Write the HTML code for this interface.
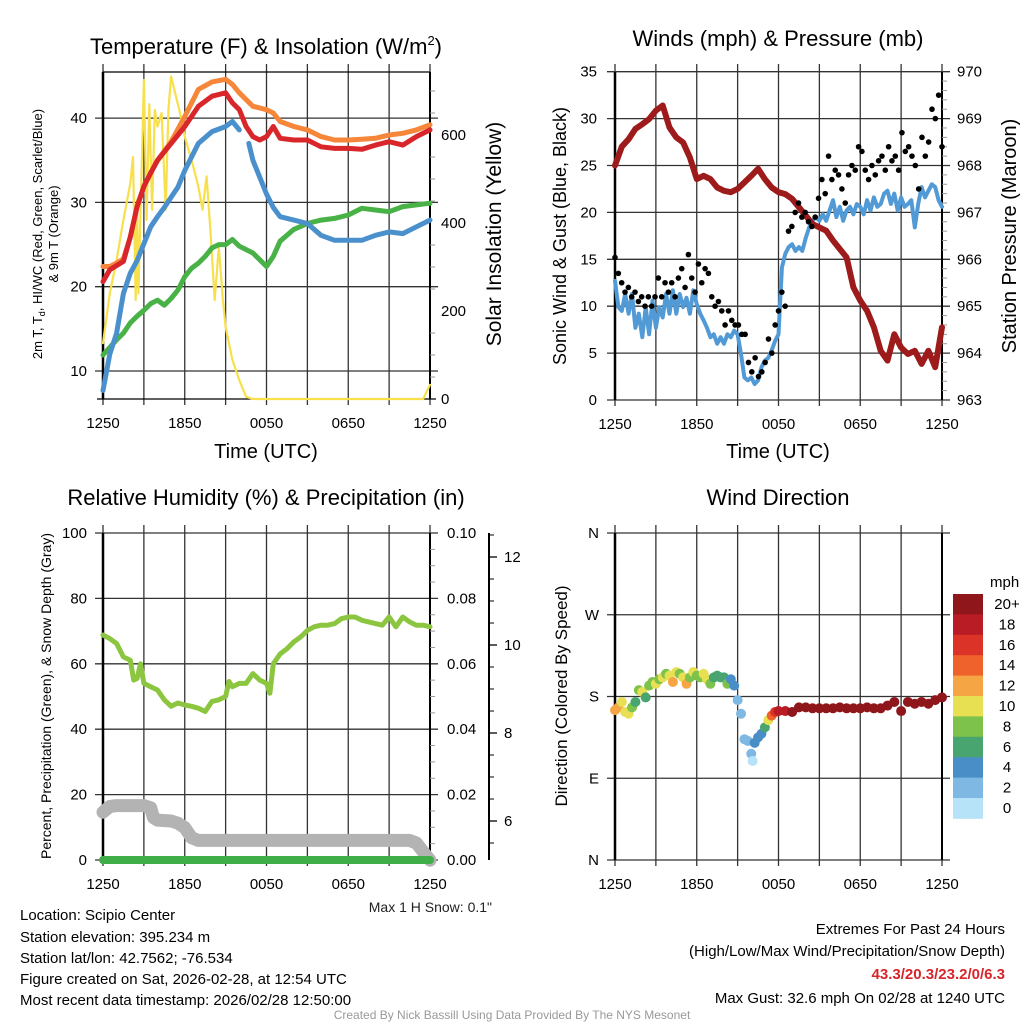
<!DOCTYPE html>
<html><head><meta charset="utf-8">
<style>
body{margin:0;background:#fff;width:1024px;height:1024px;overflow:hidden;font-family:"Liberation Sans",sans-serif}
svg text{font-family:"Liberation Sans",sans-serif}
</style></head>
<body>
<svg id="c" width="1024" height="1024" viewBox="0 0 1024 1024">
<g id="titles" fill="#000">
<text x="266" y="54" font-size="22" text-anchor="middle">Temperature (F) &amp; Insolation (W/m<tspan font-size="13" dy="-9">2</tspan><tspan dy="9">)</tspan></text>
<text x="778" y="46" font-size="22" text-anchor="middle">Winds (mph) &amp; Pressure (mb)</text>
<text x="266" y="505" font-size="22" text-anchor="middle">Relative Humidity (%) &amp; Precipitation (in)</text>
<text x="778" y="505" font-size="22" text-anchor="middle">Wind Direction</text>
<text x="266" y="458" font-size="20" text-anchor="middle">Time (UTC)</text>
<text x="778" y="458" font-size="20" text-anchor="middle">Time (UTC)</text>
<text transform="translate(42,234) rotate(-90)" font-size="13" text-anchor="middle">2m T, T<tspan font-size="9" dy="3">d</tspan><tspan dy="-3">, HI/WC (Red, Green, Scarlet/Blue)</tspan></text>
<text transform="translate(58,234) rotate(-90)" font-size="13" text-anchor="middle">&amp; 9m T (Orange)</text>
<text transform="translate(501,234) rotate(-90)" font-size="21" text-anchor="middle">Solar Insolation (Yellow)</text>
<text transform="translate(566,236) rotate(-90)" font-size="18" text-anchor="middle">Sonic Wind &amp; Gust (Blue, Black)</text>
<text transform="translate(1016,236) rotate(-90)" font-size="20" text-anchor="middle">Station Pressure (Maroon)</text>
<text transform="translate(51,696) rotate(-90)" font-size="14" text-anchor="middle">Percent, Precipitation (Green), &amp; Snow Depth (Gray)</text>
<text transform="translate(567,696) rotate(-90)" font-size="17" text-anchor="middle">Direction (Colored By Speed)</text>
<text x="492" y="912" font-size="14" text-anchor="end" fill="#222">Max 1 H Snow: 0.1"</text>
<g font-size="15">
<text x="20" y="920">Location: Scipio Center</text>
<text x="20" y="942">Station elevation: 395.234 m</text>
<text x="20" y="963">Station lat/lon: 42.7562; -76.534</text>
<text x="20" y="984">Figure created on Sat, 2026-02-28, at 12:54 UTC</text>
<text x="20" y="1005">Most recent data timestamp: 2026/02/28 12:50:00</text>
</g>
<g font-size="15" text-anchor="end">
<text x="1005" y="934">Extremes For Past 24 Hours</text>
<text x="1005" y="956">(High/Low/Max Wind/Precipitation/Snow Depth)</text>
<text x="1005" y="979" fill="#d7262b" font-weight="bold">43.3/20.3/23.2/0/6.3</text>
<text x="1005" y="1003">Max Gust: 32.6 mph On 02/28 at 1240 UTC</text>
</g>
<text x="512" y="1019" font-size="12" fill="#999" text-anchor="middle">Created By Nick Bassill Using Data Provided By The NYS Mesonet</text>
</g>
</svg>
<script>
// ---------- data (hours since 1250 UTC) ----------
const xTickLabels=["1250","1850","0050","0650","1250"];
const tempHours=[0,0.5,1.5,2,2.5,3,3.5,4,5,6,7,8,9,9.5,10,10.5,11,11.5,12,12.5,13,14,15,16,17,18,19,20,21,22,23,24];
const tempRed=[20.6,22,23,25.9,29.5,31.9,33.5,35,37,39,41.4,42.6,43,41.8,41,39,37.8,37.4,37.8,39,37.6,37.4,37.4,36.6,36.4,36.4,36.3,36.8,37.2,36.8,37.8,38.6];
const orangeHours=[0,0.5,1,1.5,2,2.5,3,3.5,4,5,6,7,8,9,9.5,10,11,12,12.5,13,14,15,16,17,18,19,20,21,22,23,24];
const tempOrange=[22.4,22.4,22.8,23.3,25.9,29.5,31.9,33.5,35,37.2,40.2,43.4,44.3,44.6,44,43,41.4,41,40.6,39.6,39,38.6,37.8,37.4,37.4,37.5,37.6,38,38.2,38.6,39.2];
const blueHours=[0,0.5,1,1.5,2,2.5,3,3.5,4,4.5,5,5.5,6,6.5,7,8,9,9.5,10,10.3,10.7,11,11.5,12,12.5,13,14,15,16,17,18,19,20,21,22,23,24];
const tempBlue=[7.7,12,14.5,19.2,21.6,23.1,25.1,27.1,28.3,29.4,30.6,31.8,33.8,35.4,37,38.4,39,39.6,38.6,null,37,35,33,31,29.4,28.3,27.9,27.5,26.1,25.5,25.5,25.5,26.1,26.5,26.3,27.1,27.9];
const greenHours=[0,1,1.5,2,2.5,3,3.5,4,4.5,5,5.5,6,6.5,7,7.5,8,8.5,9,9.5,10,11,11.5,12,12.5,13,14,15,16,17,18,19,20,21,22,23,24];
const tempGreen=[11.9,13.7,14.5,15.7,16.5,17.2,18,18.4,17.8,18.6,19.6,21.2,22.2,22.8,23.6,24.6,25,25,25.6,24.8,24,23.2,22.4,23.6,25.4,26.8,27.5,27.9,28.1,28.5,29.3,29.1,28.9,29.5,29.7,29.9];
const solarHours=[0,0.5,1,1.5,2,2.2,2.4,2.5,2.6,2.8,3,3.2,3.4,3.6,3.8,4,4.3,4.6,4.8,5,5.3,5.6,6,6.5,7,7.3,7.6,7.9,8.2,8.5,8.8,9,9.5,10,10.5,11,23.5,23.8,24];
const solarVals=[127,240,316,407,490,550,225,452,240,482,725,407,670,430,657,619,650,430,657,733,695,657,596,543,482,430,506,376,225,346,225,164,89,43,5,0,0,20,32];
const presHours=[0,0.5,1,1.5,2,2.5,3,3.5,4,4.5,5,5.5,6,6.5,7,7.5,8,8.5,9,9.5,10,10.5,11,11.5,12,12.5,13,13.5,14,14.5,15,15.5,16,16.5,17,17.5,18,18.5,19,19.5,20,20.5,21,21.5,22,22.5,23,23.5,24];
const presVals=[968.0,968.4,968.56,968.78,968.88,968.99,969.17,969.28,968.81,968.6,968.49,968.17,967.71,967.78,967.71,967.53,967.46,967.43,967.5,967.64,967.78,967.93,967.71,967.53,967.43,967.39,967.29,967.11,966.93,966.75,966.68,966.61,966.4,966.22,966.04,965.4,965.12,964.9,964.55,964.05,963.84,964.4,964.12,963.98,964.05,963.77,964.05,963.7,964.55];
const windSpeed=[12.7,9.9,9.5,11.3,9.2,11.3,7.7,9.2,6.7,9.9,7,10.6,7.7,9.9,8.8,11.3,9.2,11.7,9.2,11.3,9.9,10.9,9.2,11.7,10.2,9.2,8.5,7.7,6.7,7,6,6.7,6,7,6.7,7.4,7,4.9,2.4,2.1,2.4,1.7,2.1,3.5,4.2,4.5,5.3,6.3,7,14.1,15.6,16.3,16.6,15.9,16.3,15.9,17.3,18.4,19.1,19.5,19.1,19.8,19.1,20.2,21.3,19.5,20.6,19.1,20.2,20.6,19.8,20.9,20.6,19.8,21.3,20.2,21.6,20.6,20.9,22,22.3,20.9,22,20.2,21.6,20.6,20.9,21.3,18.4,20.9,22.7,21.6,22.3,23,22.7,21.3,20.6];
const windGust=[15.2,13.5,12.5,11.5,12,11,11.5,10.5,11,10,11,10,11,13,11,12.5,11.5,12.5,11,13,14,12,15.5,13,11.5,14.5,12.5,14,13.5,11,10,10.5,9.5,8,9.5,8.5,8,8,7,7,4,3,4.5,2.5,3,4,6.5,5,8,9.5,11.5,10,18,18.5,20,21,19.5,20,19,18.5,19.5,21.5,23.5,22,26,23.5,24.5,24,22.5,21,24,25,24.5,27,26.5,24.5,23.5,25,24,25.5,26,24.5,27,25.5,26,24.5,28.5,26.5,27,26,25,22.5,28,26,27.5,31,30,32.5,27];
const rhHours=[0,0.5,1,1.5,2,2.25,2.5,2.75,3,3.5,4,4.5,5,5.5,6,6.5,7,7.5,8,8.5,9,9.25,9.5,10,10.5,11,11.5,12,12.25,12.5,13,13.5,14,14.5,15,15.5,16,16.5,17,17.5,18,18.5,19,19.5,20,20.5,21,21.5,22,22.5,23,23.5,24];
const rhVals=[68.8,67.7,66.2,62.1,61.1,55,55.5,60,54,53,52,49,47,48,47.4,47,46.4,45.4,48.5,49,50,54.6,53,54,54,57,55,54,51,60,63,64.6,66.7,68.2,70.2,71.3,71.8,71.8,72.3,73.8,74.3,74.3,73.3,72.8,72.3,71.8,74.3,71.3,74.3,72.8,71.8,71.8,71.3];
const snowHours=[0,0.5,1,2,3,3.5,3.7,4,5,5.5,6,6.5,7,10,15,20,22.5,23,23.5,24];
const snowVals=[6.2,6.33,6.35,6.35,6.35,6.3,6.08,6.02,6.0,5.95,5.85,5.62,5.56,5.56,5.56,5.56,5.56,5.5,5.3,5.11];
const precipHours=[0,24];
const precipVals=[0,0];
const dirHours=[0,0.25,0.5,0.75,1,1.25,1.5,1.75,2,2.25,2.5,2.75,3,3.25,3.5,3.75,4,4.25,4.5,4.75,5,5.25,5.5,5.75,6,6.25,6.5,6.75,7,7.25,7.5,7.75,8,8.25,8.5,8.75,9,9.25,9.5,9.75,10,10.1,10.25,10.5,10.75,11,11.25,11.5,11.75,12,12.5,13,13.5,14,14.5,15,15.5,16,16.5,17,17.5,18,18.5,19,19.5,20,20.5,21,21.5,22,22.5,23,23.5,24];
const dirVals=[165,168,174,163,161,168,174,187,185,179,192,196,194,199,201,205,203,196,207,205,201,194,201,207,203,201,205,199,194,201,203,201,201,194,199,192,176,161,133,131,117,109,129,135,139,146,154,159,163,164,164,163,168,168,167,167,167,167,168,167,167,167,168,167,167,170,174,164,174,172,174,172,176,179];
const dirSpeeds=[12,12,10,10,10,8,6,8,10,6,8,8,10,8,10,8,10,12,10,8,10,12,8,10,8,8,10,10,8,6,6,6,6,8,4,4,2,2,2,2,2,0,4,4,4,6,10,14,16,18,18,20,20,20,20,20,20,20,20,20,20,20,20,20,20,20,20,20,20,20,20,20,20,20];
const colorLabels=["20+","18","16","14","12","10","8","6","4","2","0"];
const colorSwatches=["#8f161b","#b91c24","#dc3328","#ef622c","#f6a545","#e7e052","#7cc24b","#48a56f","#4a8ec7","#7eb8e3","#b6e3f8"];

// ---------- helpers ----------
const NS="http://www.w3.org/2000/svg";
const svg=document.getElementById("c");
function mk(tag,attrs,parent){const e=document.createElementNS(NS,tag);for(const k in attrs)e.setAttribute(k,attrs[k]);(parent||svg).appendChild(e);return e;}
function txt(s,attrs,parent){const e=mk("text",attrs,parent);e.textContent=s;return e;}
function timeScale(x0,x1){return h=>x0+h*(x1-x0)/24;}
function linScale(v0,p0,v1,p1){return v=>p0+(v-v0)*(p1-p0)/(v1-v0);}
function pathFrom(hs,vs,xs,ys){let d="",pen=false;for(let i=0;i<hs.length;i++){if(vs[i]==null){pen=false;continue;}d+=(pen?"L":"M")+xs(hs[i]).toFixed(1)+","+ys(vs[i]).toFixed(1);pen=true;}return d;}
function idxHours(n){return Array.from({length:n},(_,i)=>i*24/(n-1));}

function frame(name,x0,x1,top,bot,yTicks,ys,labels,labelX){
  const g=mk("g",{});
  
  
  const xs=timeScale(x0,x1);
  for(let h=0;h<=24;h+=3){
    const l=mk("line",{x1:xs(h),x2:xs(h),y1:top-8,y2:bot+6,stroke:"#333","stroke-width":1.3},g);
    
    
  }
  for(let i=0;i<5;i++){
    const t=txt(xTickLabels[i],{x:xs(i*6),y:bot+29,"font-size":15,"text-anchor":"middle"},g);
    
    
  }
  yTicks.forEach((v,i)=>{
    const y=ys(v);
    const l=mk("line",{x1:x0-8,x2:x1+8,y1:y,y2:y,stroke:"#333","stroke-width":1.3},g);
    
    
    const t=txt(labels[i],{x:labelX,y:y+5,"font-size":15,"text-anchor":"end"},g);
    
    
  });
  mk("line",{x1:x0,x2:x0,y1:top,y2:bot,stroke:"#000","stroke-width":2.5},g);
  mk("line",{x1:x1,x2:x1,y1:top,y2:bot,stroke:"#000","stroke-width":2},g);
  return xs;
}
function rightAxis(g,x1,ticks,ys,labels,lx,minor){
  ticks.forEach((v,i)=>{
    const t=txt(labels[i],{x:lx,y:ys(v)+5,"font-size":15},g);
    
    
  });
  minor.forEach(v=>mk("line",{x1:x1,x2:x1+5,y1:ys(v),y2:ys(v),stroke:"#999","stroke-width":1},g));
}
function series(name,d,color,w,parent){
  const p=mk("path",{d:d,fill:"none",stroke:color,"stroke-width":w,"stroke-linejoin":"round","stroke-linecap":"round"},parent);
  
  
  return p;
}

// ---------- panel 1: temperature ----------
const yT=linScale(10,371,40,118.1), ySol=linScale(0,399,600,135);
const xs1=frame("temp",103,430,72,399,[10,20,30,40],yT,["10","20","30","40"],87);
mk("line",{x1:103,x2:430,y1:72,y2:72,stroke:"#000","stroke-width":1.3});
mk("line",{x1:97,x2:436,y1:399,y2:399,stroke:"#000","stroke-width":1.3});
const g1=mk("g",{});
rightAxis(g1,430,[0,200,400,600],ySol,["0","200","400","600"],441,[50,100,150,250,300,350,450,500,550,650,700]);
series("solar-insolation-line",pathFrom(solarHours,solarVals,xs1,ySol),"#f7e04b",2.2,g1);
series("green-dewpoint-line",pathFrom(greenHours,tempGreen,xs1,yT),"#49b247",5,g1);
series("blue-windchill-line",pathFrom(blueHours,tempBlue,xs1,yT),"#4a90cc",5,g1);
series("orange-9m-temp-line",pathFrom(orangeHours,tempOrange,xs1,yT),"#f5863a",5,g1);
series("red-2m-temp-line",pathFrom(tempHours,tempRed,xs1,yT),"#d9262b",5,g1);

// ---------- panel 2: winds ----------
const ySp=linScale(0,400,35,71.7), yP=linScale(963,400,970,71.7);
const xs2=frame("wind",615,942,72,400,[0,5,10,15,20,25,30,35],ySp,["0","5","10","15","20","25","30","35"],597);
const g2=mk("g",{});
rightAxis(g2,942,[963,964,965,966,967,968,969,970],yP,["963","964","965","966","967","968","969","970"],957,[963.2,963.4,963.6,963.8,964.2,964.4,964.6,964.8,965.2,965.4,965.6,965.8,966.2,966.4,966.6,966.8,967.2,967.4,967.6,967.8,968.2,968.4,968.6,968.8,969.2,969.4,969.6,969.8]);
series("wind-speed-line",pathFrom(idxHours(windSpeed.length),windSpeed,xs2,ySp),"#519ad6",4,g2);
series("pressure-line",pathFrom(presHours,presVals,xs2,yP),"#9e1b1c",6,g2);
const gh=idxHours(windGust.length);
windGust.forEach((v,i)=>{
  const c=mk("circle",{cx:xs2(gh[i]),cy:ySp(v),r:2.8,fill:"#000"},g2);
  
  
});

// ---------- panel 3: RH ----------
const yR=linScale(0,860,100,533), ySn=linScale(6,821,12,557);
const xs3=frame("rh",103,430,533,860,[0,20,40,60,80,100],yR,["0","20","40","60","80","100"],87);
const g3=mk("g",{});
rightAxis(g3,430,[0,20,40,60,80,100],yR,["0.00","0.02","0.04","0.06","0.08","0.10"],447,[5,10,15,25,30,35,45,50,55,65,70,75,85,90,95]);
mk("line",{x1:489,x2:489,y1:533,y2:860,stroke:"#000","stroke-width":2},g3);
[6,8,10,12].forEach(v=>{
  mk("line",{x1:489,x2:497,y1:ySn(v),y2:ySn(v),stroke:"#000","stroke-width":1.3},g3);
  const t=txt(String(v),{x:504,y:ySn(v)+5,"font-size":15},g3);
  
  
});
[5.5,6.5,7,7.5,8.5,9,9.5,10.5,11,11.5,12.5].forEach(v=>mk("line",{x1:489,x2:494,y1:ySn(v),y2:ySn(v),stroke:"#000","stroke-width":1},g3));
series("snow-depth-line",pathFrom(snowHours,snowVals,xs3,ySn),"#b3b3b3",13,g3);
series("rh-line",pathFrom(rhHours,rhVals,xs3,yR),"#8cc640",5,g3);
series("precip-line",pathFrom(precipHours,precipVals,xs3,h=>yR(h*1000)),"#3fae49",8,g3);

// ---------- panel 4: wind direction ----------
const yD=linScale(0,860,360,533);
const xs4=frame("direction",615,942,533,860,[0,90,180,270,360],yD,["N","E","S","W","N"],599);
const g4=mk("g",{});
dirVals.forEach((v,i)=>{
  const k=Math.min(10,Math.floor(dirSpeeds[i]/2));
  const c=mk("circle",{cx:xs4(dirHours[i]),cy:yD(v),r:5,fill:colorSwatches[10-k]},g4);
  
  
});
const cb=mk("g",{});


txt("mph",{x:990,y:587,"font-size":15},cb);
colorSwatches.forEach((c,i)=>{
  const r=mk("rect",{x:953,y:594+i*20.4,width:30,height:20.8,fill:c},cb);
  
  
  const t=txt(colorLabels[i],{x:1007,y:609+i*20.4,"font-size":15,"text-anchor":"middle"},cb);
  
  
});
</script>
</body></html>
